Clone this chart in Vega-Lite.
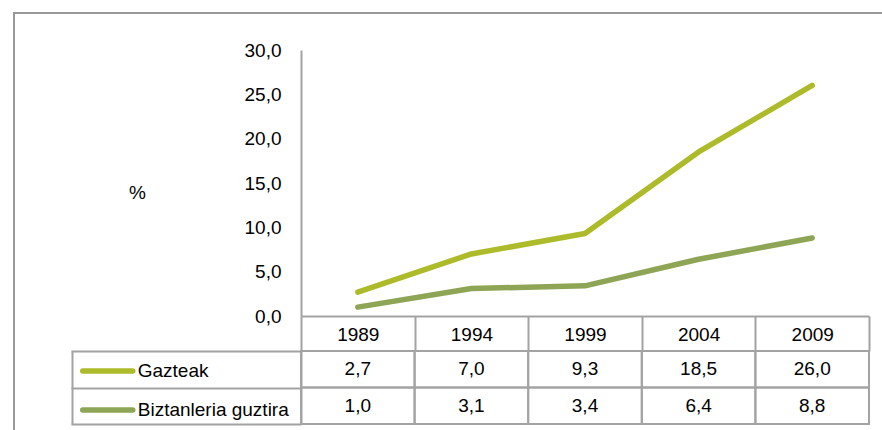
{
  "$schema": "https://vega.github.io/schema/vega-lite/v6.json",
  "width": 870,
  "height": 420,
  "autosize": {"type": "none"},
  "padding": {"left": 14, "top": 13, "right": -2, "bottom": -3},
  "background": "white",
  "config": {
    "font": "Liberation Sans",
    "locale": {"number": {"decimal": ",", "thousands": ".", "grouping": [3], "currency": ["", " €"]}},
    "view": {"stroke": "#999999", "strokeWidth": 2},
    "axis": {"grid": false, "labelFont": "Liberation Sans", "titleFont": "Liberation Sans", "labelColor": "#000000", "titleColor": "#000000", "domainColor": "#a3a3a3", "domainWidth": 2, "tickColor": "#a3a3a3", "tickWidth": 2}
  },
  "data": {
    "values": [
      {"year": "1989", "series": "Gazteak", "value": 2.7},
      {"year": "1994", "series": "Gazteak", "value": 7.0},
      {"year": "1999", "series": "Gazteak", "value": 9.3},
      {"year": "2004", "series": "Gazteak", "value": 18.5},
      {"year": "2009", "series": "Gazteak", "value": 26.0},
      {"year": "1989", "series": "Biztanleria guztira", "value": 1.0},
      {"year": "1994", "series": "Biztanleria guztira", "value": 3.1},
      {"year": "1999", "series": "Biztanleria guztira", "value": 3.4},
      {"year": "2004", "series": "Biztanleria guztira", "value": 6.4},
      {"year": "2009", "series": "Biztanleria guztira", "value": 8.8}
    ]
  },
  "encoding": {
    "x": {
      "field": "year", "type": "ordinal",
      "scale": {"type": "band", "range": [287, 855], "paddingInner": 0, "paddingOuter": 0},
      "axis": {
        "orient": "bottom", "offset": -117, "title": null, "labelAngle": 0,
        "ticks": true, "tickBand": "extent", "tickSize": 35,
        "labelFontSize": 19, "labelPadding": -17, "labelBaseline": "middle"
      }
    }
  },
  "layer": [
    {
      "mark": {"type": "line", "strokeWidth": 5.5, "strokeCap": "round", "strokeJoin": "round"},
      "encoding": {
        "y": {
          "field": "value", "type": "quantitative",
          "scale": {"domain": [0, 30], "range": [303, 37], "nice": false, "zero": true},
          "axis": {
            "orient": "left", "offset": -287, "values": [0, 5, 10, 15, 20, 25, 30], "format": ".1f",
            "ticks": false, "labelPadding": 20, "labelFontSize": 19,
            "title": "%", "titleAngle": 0, "titleX": -164, "titleY": 179, "titleAlign": "center",
            "titleBaseline": "middle", "titleFontWeight": "normal", "titleFontSize": 19
          }
        },
        "color": {
          "field": "series", "type": "nominal",
          "scale": {"domain": ["Gazteak", "Biztanleria guztira"], "range": ["#adbb2b", "#8ea556"]},
          "legend": {
            "orient": "none", "legendX": 65.75, "legendY": 330, "title": null,
            "symbolType": "stroke", "symbolSize": 2500, "symbolStrokeWidth": 5.5,
            "labelFontSize": 19, "labelColor": "#000000", "labelOffset": 2, "rowPadding": -14,
            "padding": 0, "labelLimit": 300,
            "encode": {"symbols": {"update": {"strokeCap": {"value": "round"}}}}
          }
        }
      }
    },
    {
      "mark": {"type": "rect", "fill": null, "fillOpacity": 0, "stroke": "#a3a3a3", "strokeWidth": 2},
      "encoding": {
        "y": {
          "field": "series", "type": "nominal",
          "scale": {"type": "band", "domain": ["Gazteak", "Biztanleria guztira"], "range": [338, 411], "paddingInner": 0, "paddingOuter": 0},
          "axis": {
            "orient": "left", "offset": -287, "title": null, "labels": false,
            "ticks": true, "tickBand": "extent", "tickSize": 230
          }
        }
      }
    },
    {
      "mark": {"type": "text", "fontSize": 19, "color": "#000000", "baseline": "middle", "align": "center"},
      "encoding": {
        "y": {
          "field": "series", "type": "nominal",
          "scale": {"type": "band", "domain": ["Gazteak", "Biztanleria guztira"], "range": [338, 411], "paddingInner": 0, "paddingOuter": 0},
          "axis": {"orient": "left", "offset": -58, "title": null, "labels": false, "ticks": false}
        },
        "text": {"field": "value", "type": "quantitative", "format": ".1f"}
      }
    }
  ],
  "resolve": {"scale": {"y": "independent", "color": "independent"}, "axis": {"y": "independent"}}
}
